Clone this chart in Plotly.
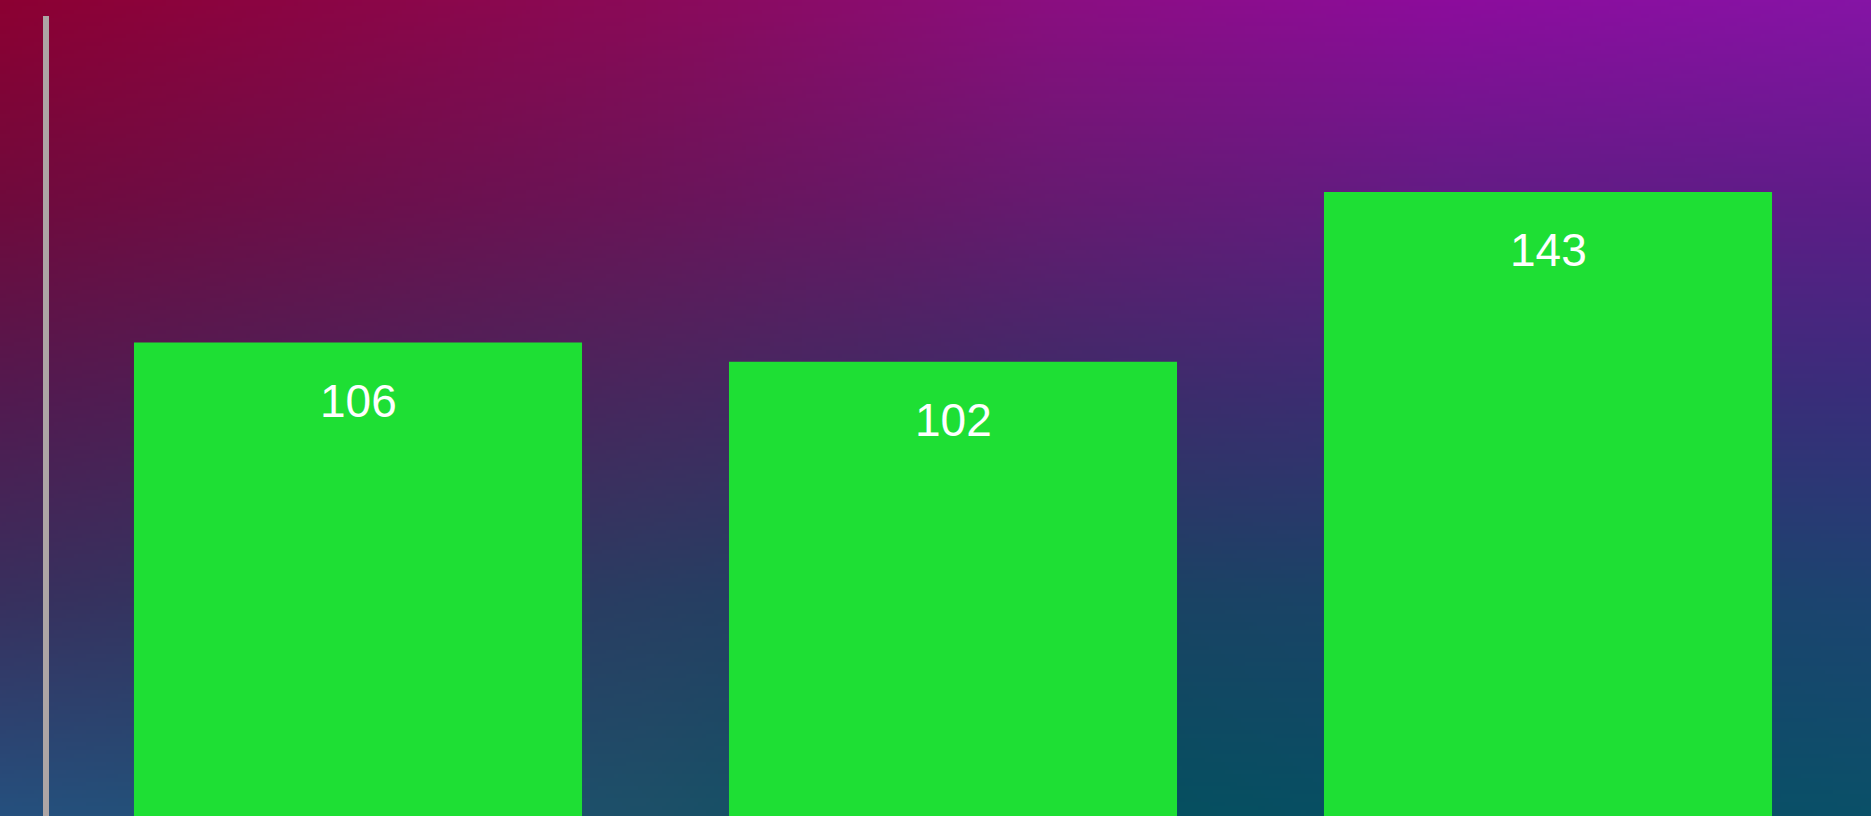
import base64
import struct
import zlib

import numpy as np
import plotly.graph_objects as go

# --- data -----------------------------------------------------------------
categories = ["A", "B", "C"]
values = [106, 102, 143]
value_labels = ["106", "102", "143"]

# --- canvas / layout geometry ----------------------------------------------
W, H = 1871, 816
M_L, M_R, M_T, M_B = 49, 14, 16, 0
PLOT_W = W - M_L - M_R
PLOT_H = H - M_T - M_B

# background gradient control grid (rows top->bottom, cols left->right)
grad_x = [0, 650, 1050, 1450, 1871]
grad_y = [0, 200, 400, 600, 816]
grad_rows = [
    ["#8C0032", "#8A0A58", "#8A0E80", "#8C0C9C", "#8514A5"],
    ["#700A3C", "#6A1458", "#661A70", "#621C84", "#5E1C88"],
    ["#521A50", "#46285E", "#3C2C68", "#3A2E74", "#382E7A"],
    ["#38305E", "#283E62", "#1A4262", "#1A4468", "#1C4470"],
    ["#25507E", "#1C5068", "#04505E", "#084E64", "#0A5068"],
]


def hex_rgb(h):
    h = h.lstrip("#")
    return [int(h[i:i + 2], 16) for i in (0, 2, 4)]


def gradient_png(w, h):
    grid = np.array([[hex_rgb(c) for c in row] for row in grad_rows], dtype=float)
    xs = np.linspace(0, W, w)
    ys = np.linspace(0, H, h)
    # interpolate along x for each control row, then along y
    tmp = np.empty((len(grad_y), w, 3))
    for r in range(len(grad_y)):
        for ch in range(3):
            tmp[r, :, ch] = np.interp(xs, grad_x, grid[r, :, ch])
    img = np.empty((h, w, 3))
    for ch in range(3):
        for c in range(w):
            img[:, c, ch] = np.interp(ys, grad_y, tmp[:, c, ch])
    img = np.clip(np.round(img), 0, 255).astype(np.uint8)

    raw = b"".join(b"\x00" + img[y].tobytes() for y in range(h))

    def chunk(tag, data):
        c = struct.pack(">I", len(data)) + tag + data
        return c + struct.pack(">I", zlib.crc32(tag + data) & 0xFFFFFFFF)

    png = b"\x89PNG\r\n\x1a\n"
    png += chunk(b"IHDR", struct.pack(">IIBBBBB", w, h, 8, 2, 0, 0, 0))
    png += chunk(b"IDAT", zlib.compress(raw, 9))
    png += chunk(b"IEND", b"")
    return "data:image/png;base64," + base64.b64encode(png).decode()


bg_src = gradient_png(468, 204)

# --- figure -----------------------------------------------------------------
fig = go.Figure(
    go.Bar(
        x=categories,
        y=values,
        marker=dict(color="#1EDF34", line=dict(width=0)),
        hoverinfo="skip",
    )
)

for cat, val, lab in zip(categories, values, value_labels):
    fig.add_annotation(
        x=cat,
        y=np.log10(val),
        text=lab,
        showarrow=False,
        yanchor="middle",
        xanchor="center",
        yshift=-58,
        font=dict(family="Liberation Sans, Arial, sans-serif", size=46, color="#FFFFFF"),
    )

# full-bleed gradient behind everything
fig.add_layout_image(
    source=bg_src,
    xref="paper",
    yref="paper",
    x=-M_L / PLOT_W,
    y=1 + M_T / PLOT_H,
    sizex=W / PLOT_W,
    sizey=H / PLOT_H,
    xanchor="left",
    yanchor="top",
    sizing="stretch",
    layer="below",
)

half = (M_L + (358 - M_L)) / 595.0  # category half-span in axis units
x_lo = -(358 - M_L) / 595.0
x_hi = x_lo + PLOT_W / 595.0

fig.update_layout(
    width=W,
    height=H,
    margin=dict(l=M_L, r=M_R, t=M_T, b=M_B, pad=0),
    paper_bgcolor="rgba(0,0,0,0)",
    plot_bgcolor="rgba(0,0,0,0)",
    showlegend=False,
    bargap=0.247,
    xaxis=dict(
        type="category",
        range=[x_lo, x_hi],
        showline=False,
        showgrid=False,
        zeroline=False,
        showticklabels=False,
        ticks="",
    ),
    yaxis=dict(
        type="log",
        range=[1.6162, 2.3074],
        showline=True,
        linecolor="#ADA5A5",
        linewidth=6,
        showgrid=False,
        zeroline=False,
        showticklabels=False,
        ticks="",
    ),
)

fig.write_html("out.html", include_plotlyjs=True, config={"displayModeBar": False})
